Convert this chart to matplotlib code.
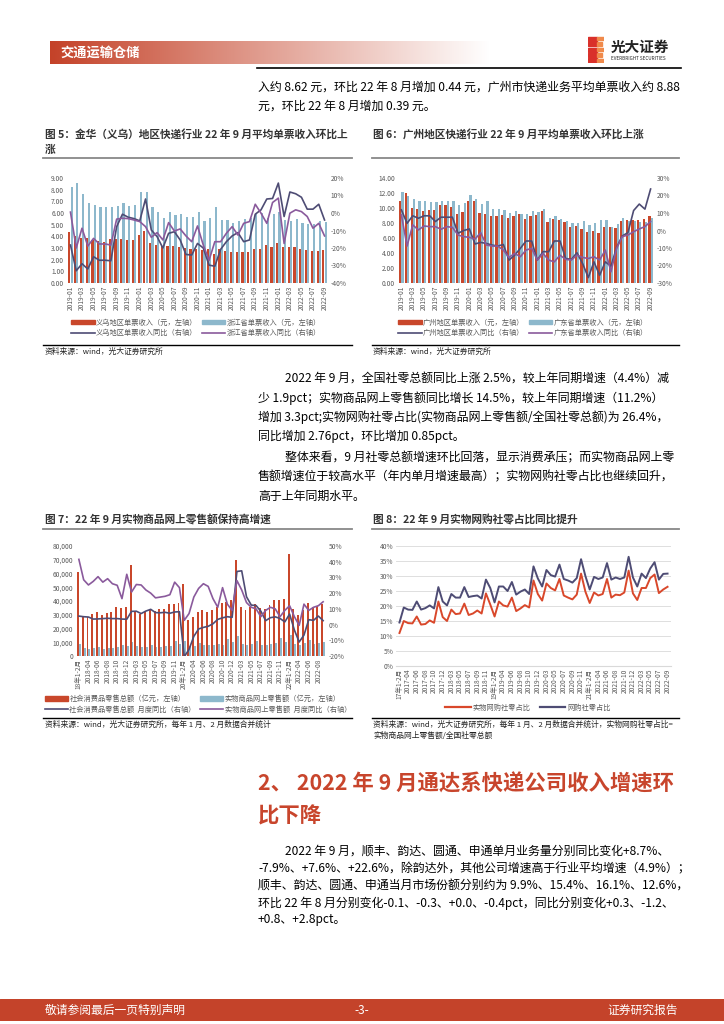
import matplotlib
matplotlib.use("Agg")
import matplotlib.pyplot as plt
import numpy as np
from matplotlib.patches import Rectangle, Patch
from matplotlib.lines import Line2D

plt.rcParams['font.family'] = ['Noto Sans CJK SC', 'DejaVu Sans']
plt.rcParams['axes.unicode_minus'] = False

W, H = 724, 1024

# ---------------- data ----------------
# fig 5 / fig 6: 2019-01 .. 2022-09
months = []
for yr in range(2019, 2023):
    for m in range(1, 13):
        if yr == 2022 and m > 9:
            break
        months.append("%d-%02d" % (yr, m))

yiwu_price = [4.35, 4.0, 3.85, 3.85, 3.7, 3.6, 3.55, 3.75, 3.8, 3.8, 3.7, 3.7,
              4.1, 4.5, 3.45, 3.25, 3.2, 3.15, 3.15, 3.1, 3.0, 2.9, 2.9, 2.85,
              2.9, 2.5, 2.9, 2.75, 2.7, 2.65, 2.65, 2.65, 2.95, 2.95, 3.3, 3.05,
              3.4, 3.05, 3.05, 3.05, 2.9, 2.8, 2.75, 2.75, 2.8]
zj_price = [8.2, 8.55, 7.6, 6.9, 6.65, 6.5, 6.5, 6.55, 6.6, 6.85, 6.6, 6.7,
            7.8, 7.8, 6.5, 6.1, 5.6, 6.1, 5.8, 5.95, 5.7, 5.65, 6.1, 5.3,
            5.6, 6.5, 5.4, 5.4, 5.15, 5.35, 5.45, 5.6, 5.9, 6.0, 5.6, 5.9,
            6.1, 5.4, 5.3, 5.5, 5.15, 5.1, 5.05, 5.3, 5.25]
yiwu_yoy = [-18.3, -33, -29, -32, -25, -27, -27, -27.3, -7.8, -0.7, -2.4, -3.2,
            -4.5, 8, -9.7, -13.5, -20, -11.6, -10.7, -15.4, -23.7, -24, -17.4, -20,
            -29.8, -30.4, -20.8, -16.4, -13.1, -11.2, -16.4, -15.4, -0.7, 1.8, 8, 8.3,
            17.1, -2, 12, 11, 9, 2.2, 2.2, 5, -4]
zj_yoy = [0.5, -20, -8.7, -18.9, -14.5, -17.7, -17.7, -18.3, -3.5, -3, -3.2, -4,
          -4.9, -7.8, -13.9, -11.2, -15.4, -5.5, -10.3, -9.1, -13.1, -16.4, -7.4, -18.3,
          -27, -16.4, -16.4, -11.6, -7.8, -12.6, -5.9, -4.9, 5, -0.1, -5.9, 6,
          8.5, -17.4, -0.1, 1.8, 0.8, -2, -8.7, -5.9, -13.1]

gz_price = [10.9, 11.95, 10.05, 9.85, 9.6, 9.75, 9.75, 10.4, 10.4, 10.15, 9.2, 9.5,
            10.9, 10.9, 9.4, 9.15, 8.95, 8.95, 9.1, 8.7, 9.0, 9.2, 8.55, 8.95,
            9.1, 9.6, 8.2, 8.55, 8.4, 8.15, 7.5, 7.6, 7.25, 6.8, 7.0, 6.7,
            7.45, 7.5, 7.4, 8.3, 8.35, 8.4, 8.45, 8.49, 8.88]
gd_price = [12.15, 11.55, 11.2, 11.0, 10.9, 10.8, 10.8, 10.95, 11.0, 10.9, 10.4, 10.65,
            11.7, 11.2, 10.5, 10.95, 9.9, 9.9, 9.7, 9.35, 9.6, 9.2, 9.2, 9.65,
            9.45, 9.9, 8.7, 8.9, 8.5, 8.3, 8.05, 8.05, 8.3, 7.7, 8.0, 8.4,
            8.4, 7.5, 7.85, 8.65, 8.3, 8.3, 8.15, 8.18, 8.62]
gz_yoy = [11.8, 4.1, 8.4, 7.0, 8.4, 8.4, 5.1, 7.6, 7.6, 7.6, -1.6, 0,
          0.9, -7.7, -6.8, -7.4, -8.3, -8.9, -8.0, -16.9, -14.1, -10.2, -6.0, -6.0,
          -16.9, -12.1, -12.1, -6.0, -6.0, -16.0, -16.5, -12.7, -18.9, -26.9, -17.9, -25.6,
          -17.9, -20.4, -9.7, -3.1, -1.2, 11.4, 15.1, 12.2, 23.7]
gd_yoy = [8.9, -8.9, 3.2, 0.3, 2.6, 2.2, 2.2, 0.7, 2.2, 1.8, -2.6, -3.5,
          -3.9, -4.9, -1.2, -8.3, -8.9, -8.9, -11.2, -15.4, -13.1, -15.0, -11.2, -10.2,
          -16.9, -13.1, -16.9, -17.9, -14.1, -16.5, -16.9, -14.1, -15.4, -16.0, -15.0, -16.9,
          -11.2, -23.6, -10.2, -3.5, -2.6, -0.7, 0.9, 2.2, 5.1]

# fig 7: 18年1-2月 .. 2022-09 (Jan/Feb merged)
retail_labels = []
for yr in range(2018, 2023):
    retail_labels.append("%d年1-2月" % (yr % 100))
    for m in range(3, 13):
        if yr == 2022 and m > 9:
            break
        retail_labels.append("%d-%02d" % (yr, m))
retail_total = [61082, 29194, 28542, 30359, 31835, 29953, 31542, 32005, 35534, 35260, 35893,
                66064, 31726, 30586, 32956, 33878, 33073, 33896, 34495, 38104, 38094, 38777,
                52130, 26450, 28178, 31973, 33526, 32203, 33571, 35295, 38576, 39514, 40566,
                69737, 35484, 33153, 35945, 37586, 34925, 34395, 36833, 40454, 41043, 41269,
                74426, 34233, 29483, 33547, 38742, 35870, 36258, 37745]
retail_online = [9000, 5500, 4800, 5600, 6200, 5400, 5600, 6000, 6300, 8300, 7600,
                 10500, 7000, 6300, 6600, 7700, 6400, 6600, 7000, 7500, 11000, 9000,
                 11000, 7200, 7600, 9600, 8300, 7800, 8000, 8600, 7900, 12600, 10000,
                 14500, 8500, 8000, 8800, 10600, 8200, 8100, 8600, 9600, 12800, 10000,
                 15600, 8800, 8000, 9700, 11300, 9000, 9300, 9900]
retail_total_yoy = [5.4, 5.0, 4.8, 3.5, 3.6, 3.8, 4.0, 3.8, 3.8, 3.5, 3.4,
                    8.4, 8.5, 7.0, 8.6, 9.7, 7.6, 7.5, 7.8, 7.2, 8.0, 8.2,
                    -20.5, -15.8, -7.5, -2.8, -1.8, -1.1, 0.5, 3.3, 4.3, 5.0, 4.6,
                    33.8, 34.2, 17.7, 12.4, 12.1, 8.5, 2.5, 4.4, 4.9, 3.9, 1.7,
                    6.7, -3.5, -11.1, -6.7, 3.1, 2.7, 5.4, 2.5]
retail_online_yoy = [41.5, 28.5, 25.2, 27.5, 30.5, 27.0, 29.2, 26.0, 25.0, 16.5, 32.0,
                     20.7, 25.5, 25.2, 22.0, 20.0, 17.0, 17.5, 18.0, 19.0, 27.0, 23.5,
                     2.7, 7.0, 17.5, 23.0, 26.0, 24.3, 16.5, 11.0, 23.5, 13.0, 9.0,
                     28.0, 22.0, 14.0, 11.0, 10.0, 5.0, 9.0, 11.0, 10.0, 5.0, 9.0,
                     12.0, 5.0, -0.5, 13.0, 9.0, 11.0, 12.0, 14.5]

# fig 8: 17年1-2月 .. 2022-09
share_labels = []
for yr in range(2017, 2023):
    share_labels.append("%d年1-2月" % (yr % 100))
    for m in range(3, 13):
        if yr == 2022 and m > 9:
            break
        share_labels.append("%d-%02d" % (yr, m))
share_physical = [11.0, 15.0, 14.3, 14.2, 16.5, 13.8, 14.0, 15.2, 14.4, 21.5, 16.3,
                  15.0, 18.8, 17.3, 17.5, 20.8, 17.0, 17.5, 18.5, 17.5, 24.2, 20.5,
                  16.5, 21.5, 20.2, 19.8, 22.8, 18.3, 19.2, 20.3, 19.5, 28.5, 24.0,
                  21.8, 27.5, 26.0, 25.2, 29.0, 23.5, 22.8, 22.2, 23.8, 30.8, 24.8,
                  21.0, 24.5, 23.5, 24.0, 29.0, 22.8, 23.8, 23.6, 24.5, 31.8, 24.2,
                  22.0, 26.0, 26.0, 29.3, 30.5, 24.3, 25.5, 26.4]
share_online = [14.5, 19.5, 18.8, 18.7, 21.5, 18.8, 19.3, 20.2, 19.2, 26.3, 21.5,
                20.2, 24.0, 22.8, 22.8, 26.3, 23.0, 23.3, 23.5, 22.5, 28.8, 26.0,
                21.2, 26.5, 26.5, 25.0, 28.0, 23.8, 24.8, 25.5, 24.0, 33.2, 29.2,
                26.5, 32.0, 30.3, 29.8, 33.8, 29.0, 28.5, 27.8, 29.3, 35.6, 30.0,
                25.5, 29.7, 29.0, 29.5, 34.3, 28.8, 29.5, 29.0, 29.5, 36.4, 29.5,
                26.5, 30.8, 29.3, 32.5, 34.6, 28.8, 30.7, 30.8]

RED = '#C9472B'
BLUE = '#8DB8CC'
NAVY = '#4E4C74'
PURPLE = '#8A5A9C'
TICK = '#595959'

fig = plt.figure(figsize=(W / 100, H / 100), dpi=100)


def fx(x):
    return x / W


def fy(y):
    return 1 - y / H


def text(x, y, s, **kw):
    kw.setdefault('va', 'center')
    kw.setdefault('ha', 'left')
    fig.text(fx(x), fy(y), s, **kw)


def hline(x0, x1, y, color='black', lw=1.0):
    fig.add_artist(Line2D([fx(x0), fx(x1)], [fy(y), fy(y)], color=color, lw=lw,
                          transform=fig.transFigure))


def axes_px(l, t, r, b):
    return fig.add_axes([fx(l), fy(b), (r - l) / W, (b - t) / H])


# ---------------- header ----------------
band = axes_px(50, 41, 490, 64)
grad = np.linspace(0, 1, 256)[None, :]
c0 = np.array([0.77, 0.26, 0.16])
img = c0[None, None, :] * (1 - grad[..., None]) + np.ones(3)[None, None, :] * grad[..., None]
band.imshow(img, aspect='auto', extent=[0, 1, 0, 1])
band.axis('off')
text(60, 52.5, "交通运输仓储", color='white', fontsize=9.5, weight='bold')

logo = axes_px(588, 36, 604, 63)
logo.set_xlim(0, 1)
logo.set_ylim(0, 1)
logo.axis('off')
for i, yy in enumerate([0.02, 0.22, 0.42, 0.62, 0.82]):
    logo.add_patch(Rectangle((0, yy), 0.55 + 0.1 * (i % 2), 0.15, color='#D9302A'))
    logo.add_patch(Rectangle((0.55, yy + 0.02), 0.45 - 0.1 * (i % 2), 0.12, color='#F08A4B'))
text(611, 47, "光大证券", fontsize=10.5, weight='bold', color='#222222')
text(611, 58.5, "EVERBRIGHT SECURITIES", fontsize=3.3, color='#222222')
hline(257, 681, 67.5, lw=1.2)

BODY = 8.6
text(258, 87, "入约 8.62 元，环比 22 年 8 月增加 0.44 元，广州市快递业务平均单票收入约 8.88", fontsize=BODY)
text(258, 106, "元，环比 22 年 8 月增加 0.39 元。", fontsize=BODY)

# ---------------- chart titles ----------------
TT = 7.7
text(45, 134, "图 5：金华（义乌）地区快递行业 22 年 9 月平均单票收入环比上", fontsize=TT, weight='bold', color='#333333')
text(45, 150, "涨", fontsize=TT, weight='bold', color='#333333')
hline(43, 352, 157.5, color='#888888', lw=1.3)
text(373, 134, "图 6：广州地区快递行业 22 年 9 月平均单票收入环比上涨", fontsize=TT, weight='bold', color='#333333')
hline(372, 679, 157.5, color='#888888', lw=1.3)


def style_ax(ax):
    for s in ax.spines.values():
        s.set_visible(False)
    ax.tick_params(length=0, labelsize=4.8, colors=TICK, pad=2)


def price_chart(l, r, a, b, ya, yb, name_a, name_b, ylim, ystep, rlim, legend_cx):
    ax = axes_px(l, 178, r, 283)
    x = np.arange(len(months))
    ax.bar(x - 0.2, a, width=0.38, color=RED)
    ax.bar(x + 0.2, b, width=0.38, color=BLUE)
    ax.set_xlim(-0.6, len(months) - 0.4)
    ax.set_ylim(*ylim)
    ax.set_yticks(np.arange(ylim[0], ylim[1] + 0.01, ystep))
    ax.set_yticklabels(["%.2f" % v for v in np.arange(ylim[0], ylim[1] + 0.01, ystep)])
    ax.set_xticks(x[::2])
    ax.set_xticklabels(months[::2], rotation=90)
    style_ax(ax)
    ax2 = ax.twinx()
    ax2.plot(x, ya, color=NAVY, lw=1.2)
    ax2.plot(x, yb, color=PURPLE, lw=1.2)
    ax2.set_ylim(*rlim)
    ax2.set_yticks(np.arange(rlim[0], rlim[1] + 1, 10))
    ax2.set_yticklabels(["%d%%" % v for v in np.arange(rlim[0], rlim[1] + 1, 10)])
    style_ax(ax2)
    handles = [Patch(color=RED), Line2D([], [], color=NAVY, lw=1.2),
               Patch(color=BLUE), Line2D([], [], color=PURPLE, lw=1.2)]
    labels = [name_a + "单票收入（元，左轴）", name_a + "单票收入同比（右轴）",
              name_b + "单票收入（元，左轴）", name_b + "单票收入同比（右轴）"]
    fig.legend(handles, labels, ncol=2, loc='center', bbox_to_anchor=(fx(legend_cx), fy(328)),
               frameon=False, fontsize=5.2, handlelength=3.2, handleheight=0.6,
               handletextpad=0.2, columnspacing=0.6, labelspacing=0.35, labelcolor=TICK)


price_chart(67, 328, yiwu_price, zj_price, yiwu_yoy, zj_yoy, "义乌地区", "浙江省",
            (0, 9), 1, (-40, 20), 196)
price_chart(398, 654, gz_price, gd_price, gz_yoy, gd_yoy, "广州地区", "广东省",
            (0, 14), 2, (-30, 30), 523)

hline(43, 352, 344.5)
hline(372, 679, 344.5)
SRC = 5.6
text(45, 352, "资料来源：wind，光大证券研究所", fontsize=SRC, color='#222222')
text(373, 352, "资料来源：wind，光大证券研究所", fontsize=SRC, color='#222222')

# ---------------- body text ----------------
text(285, 379, "2022 年 9 月，全国社零总额同比上涨 2.5%，较上年同期增速（4.4%）减", fontsize=BODY)
text(258, 398, "少 1.9pct；实物商品网上零售额同比增长 14.5%，较上年同期增速（11.2%）", fontsize=BODY)
text(258, 417, "增加 3.3pct;实物网购社零占比(实物商品网上零售额/全国社零总额)为 26.4%，", fontsize=BODY)
text(258, 436, "同比增加 2.76pct，环比增加 0.85pct。", fontsize=BODY)
text(285, 458, "整体来看，9 月社零总额增速环比回落，显示消费承压；而实物商品网上零", fontsize=BODY)
text(258, 477, "售额增速位于较高水平（年内单月增速最高）；实物网购社零占比也继续回升，", fontsize=BODY)
text(258, 496, "高于上年同期水平。", fontsize=BODY)

# ---------------- fig 7 ----------------
text(45, 520, "图 7：22 年 9 月实物商品网上零售额保持高增速", fontsize=TT, weight='bold', color='#333333')
hline(43, 352, 529, color='#888888', lw=1.3)
ax7 = axes_px(76, 546, 326, 656)
x7 = np.arange(len(retail_labels))
ax7.bar(x7 - 0.2, retail_total, width=0.4, color=RED)
ax7.bar(x7 + 0.2, retail_online, width=0.4, color=BLUE)
ax7.set_xlim(-0.6, len(x7) - 0.4)
ax7.set_ylim(0, 80000)
ax7.set_yticks(range(0, 80001, 10000))
ax7.set_yticklabels(["{:,}".format(v) for v in range(0, 80001, 10000)])
ax7.set_xticks(x7[::2])
ax7.set_xticklabels(retail_labels[::2], rotation=90)
style_ax(ax7)
ax7b = ax7.twinx()
ax7b.plot(x7, retail_total_yoy, color=NAVY, lw=1.2)
ax7b.plot(x7, retail_online_yoy, color=PURPLE, lw=1.2)
ax7b.set_ylim(-20, 50)
ax7b.set_yticks(range(-20, 51, 10))
ax7b.set_yticklabels(["%d%%" % v for v in range(-20, 51, 10)])
style_ax(ax7b)
fig.legend([Patch(color=RED), Line2D([], [], color=NAVY, lw=1.2),
            Patch(color=BLUE), Line2D([], [], color=PURPLE, lw=1.2)],
           ["社会消费品零售总额（亿元，左轴）", "社会消费品零售总额  月度同比（右轴）",
            "实物商品网上零售额（亿元，左轴）", "实物商品网上零售额  月度同比（右轴）"],
           ncol=2, loc='center', bbox_to_anchor=(fx(198), fy(704.5)), frameon=False,
           fontsize=5.2, handlelength=3.2, handleheight=0.6, handletextpad=0.2,
           columnspacing=0.6, labelspacing=0.35, labelcolor=TICK)
hline(43, 352, 718)
text(45, 724.5, "资料来源：wind，光大证券研究所，每年 1 月、2 月数据合并统计", fontsize=SRC, color='#222222')

# ---------------- fig 8 ----------------
text(373, 520, "图 8：22 年 9 月实物网购社零占比同比提升", fontsize=TT, weight='bold', color='#333333')
hline(372, 679, 529, color='#888888', lw=1.3)
ax8 = axes_px(396, 546, 671, 666)
x8 = np.arange(len(share_labels))
ax8.plot(x8, share_physical, color='#D9482B', lw=1.4)
ax8.plot(x8, share_online, color=NAVY, lw=1.4)
ax8.set_xlim(-0.8, len(x8) - 0.2)
ax8.set_ylim(0, 40)
ax8.set_yticks(range(0, 41, 5))
ax8.set_yticklabels(["%d%%" % v for v in range(0, 41, 5)])
ax8.set_xticks(x8[::2])
ax8.set_xticklabels(share_labels[::2], rotation=90)
ax8.grid(axis='y', color='#D9D9D9', lw=0.6)
ax8.set_axisbelow(True)
style_ax(ax8)
ax8.spines['bottom'].set_visible(True)
ax8.spines['bottom'].set_color('#D9D9D9')
fig.legend([Line2D([], [], color='#D9482B', lw=1.6), Line2D([], [], color=NAVY, lw=1.6)],
           ["实物网购社零占比", "网购社零占比"], ncol=2, loc='center',
           bbox_to_anchor=(fx(528), fy(708)), frameon=False, fontsize=5.2,
           handlelength=3.5, handletextpad=0.3, columnspacing=1.2, labelcolor=TICK)
hline(372, 679, 718)
text(373, 724.5, "资料来源：wind，光大证券研究所，每年 1 月、2 月数据合并统计，实物网购社零占比=",
     fontsize=SRC, color='#222222')
text(373, 735.5, "实物商品网上零售额/全国社零总额", fontsize=SRC, color='#222222')

# ---------------- section 2 ----------------
HRED = '#C8452C'
text(258, 784, "2、 2022 年 9 月通达系快递公司收入增速环", fontsize=15.4, weight='bold', color=HRED)
text(258, 816, "比下降", fontsize=15.4, weight='bold', color=HRED)
text(285, 851, "2022 年 9 月，顺丰、韵达、圆通、申通单月业务量分别同比变化+8.7%、", fontsize=BODY)
text(258, 869, "-7.9%、+7.6%、+22.6%，除韵达外，其他公司增速高于行业平均增速（4.9%）；", fontsize=BODY)
text(258, 886, "顺丰、韵达、圆通、申通当月市场份额分别约为 9.9%、15.4%、16.1%、12.6%，", fontsize=BODY)
text(258, 903, "环比 22 年 8 月分别变化-0.1、-0.3、+0.0、-0.4pct，同比分别变化+0.3、-1.2、", fontsize=BODY)
text(258, 920, "+0.8、+2.8pct。", fontsize=BODY)

# ---------------- footer ----------------
foot = axes_px(0, 999, 724, 1021)
foot.set_xlim(0, 1)
foot.set_ylim(0, 1)
foot.axis('off')
foot.add_patch(Rectangle((0, 0), 1, 1, color='#C4432A'))
text(45, 1010, "敬请参阅最后一页特别声明", fontsize=8.5, color='white')
text(362, 1010, "-3-", fontsize=8.5, color='white', ha='center')
text(678, 1010, "证券研究报告", fontsize=8.5, color='white', ha='right')

fig.savefig("out.png", dpi=100)
